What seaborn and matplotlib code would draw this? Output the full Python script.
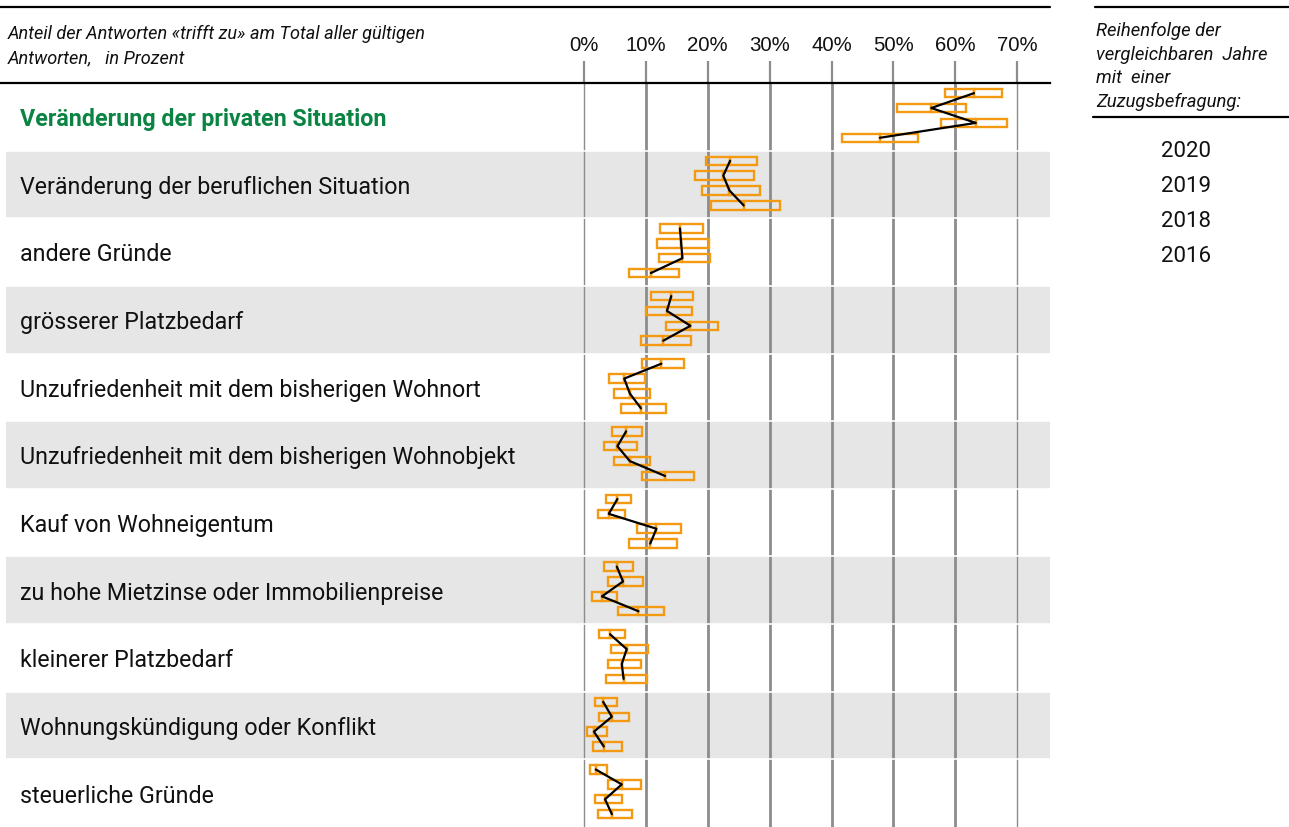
import numpy as np
import pandas as pd
import matplotlib
matplotlib.use("Agg")
import matplotlib.pyplot as plt
import seaborn as sns
from matplotlib.lines import Line2D
from matplotlib import font_manager
from matplotlib.transforms import blended_transform_factory, ScaledTranslation

# ---------------- data ----------------
categories = [
    "Veränderung der privaten Situation",
    "Veränderung der beruflichen Situation",
    "andere Gründe",
    "grösserer Platzbedarf",
    "Unzufriedenheit mit dem bisherigen Wohnort",
    "Unzufriedenheit mit dem bisherigen Wohnobjekt",
    "Kauf von Wohneigentum",
    "zu hohe Mietzinse oder Immobilienpreise",
    "kleinerer Platzbedarf",
    "Wohnungskündigung oder Konflikt",
    "steuerliche Gründe",
]
years = ["2020", "2019", "2018", "2016"]

est_2020 = [63.0, 23.6, 15.5, 14.1, 12.5, 6.8, 5.4, 5.3, 4.2, 3.1, 1.9]
lo_2020 = [58.4, 19.7, 12.2, 10.9, 9.4, 4.6, 3.5, 3.3, 2.4, 1.7, 1.0]
hi_2020 = [67.6, 28.0, 19.3, 17.6, 16.2, 9.4, 7.6, 7.9, 6.7, 5.4, 3.7]

est_2019 = [56.1, 22.5, 15.7, 13.4, 6.5, 5.4, 4.0, 6.3, 6.9, 4.5, 6.1]
lo_2019 = [50.6, 18.0, 11.8, 10.0, 4.0, 3.2, 2.2, 3.9, 4.3, 2.5, 3.8]
hi_2019 = [61.7, 27.5, 20.2, 17.5, 9.9, 8.6, 6.6, 9.5, 10.3, 7.3, 9.2]

est_2018 = [63.3, 23.5, 15.9, 17.2, 7.4, 7.4, 11.7, 2.9, 6.1, 1.6, 3.4]
lo_2018 = [57.7, 19.0, 12.1, 13.2, 4.8, 4.8, 8.6, 1.3, 3.8, 0.5, 1.8]
hi_2018 = [68.4, 28.5, 20.4, 21.7, 10.7, 10.6, 15.7, 5.4, 9.2, 3.7, 6.1]

est_2016 = [47.8, 25.8, 10.8, 12.8, 9.2, 13.1, 10.7, 8.8, 6.4, 3.2, 4.5]
lo_2016 = [41.6, 20.5, 7.3, 9.2, 5.9, 9.3, 7.3, 5.5, 3.6, 1.4, 2.2]
hi_2016 = [54.0, 31.7, 15.3, 17.3, 13.2, 17.7, 15.0, 13.0, 10.2, 6.1, 7.8]

tick_values = [0, 10, 20, 30, 40, 50, 60, 70]
tick_labels = ["0%", "10%", "20%", "30%", "40%", "50%", "60%", "70%"]

header_lines = ["Anteil der Antworten «trifft zu» am Total aller gültigen",
                "Antworten,   in Prozent"]
legend_lines = ["Reihenfolge der", "vergleichbaren  Jahre", "mit  einer",
                "Zuzugsbefragung:"]

# ---------------- styles ----------------
ORANGE = "#F39A12"
GREEN = "#0B8443"
BAND = "#E6E6E6"
GRID = "#8C8C8C"

sns.set_theme(style="white")
available = {f.name for f in font_manager.fontManager.ttflist}
MAIN = "Liberation Sans Narrow" if "Liberation Sans Narrow" in available else "Roboto"
TICKFONT = "Liberation Sans" if "Liberation Sans" in available else "DejaVu Sans"
plt.rcParams["font.family"] = [MAIN, "DejaVu Sans"]

W, H = 1289, 827
fig = plt.figure(figsize=(W / 100, H / 100), dpi=100)
renderer = fig.canvas.get_renderer()


def fit_size(text, target_px, family, **kw):
    t = fig.text(0, 0, text, fontsize=20, family=family, **kw)
    w = t.get_window_extent(renderer=renderer).width
    t.remove()
    return 20 * target_px / w


def fx(px):
    return px / W


def fy(py):
    return 1 - py / H


LBL_SIZE = fit_size("Veränderung der beruflichen Situation", 390, [MAIN])
HDR_SIZE = fit_size(header_lines[0], 417, [MAIN], style="italic")
LEG_SIZE = fit_size(legend_lines[1], 171, [MAIN], style="italic")
YEAR_SIZE = fit_size("2020", 50, [MAIN])
TICK_SIZE = fit_size("10%", 41, [TICKFONT])

# ---------------- data frame ----------------
offsets = [-0.35, -0.13, 0.09, 0.31]
rows = []
for yi, (yr, est, lo, hi) in enumerate(zip(
        years,
        [est_2020, est_2019, est_2018, est_2016],
        [lo_2020, lo_2019, lo_2018, lo_2016],
        [hi_2020, hi_2019, hi_2018, hi_2016])):
    for ci, cat in enumerate(categories):
        rows.append(dict(cat=cat, ci=ci, year=yr, yi=yi,
                         est=est[ci], lo=lo[ci], hi=hi[ci]))
df = pd.DataFrame(rows).sort_values(["ci", "yi"]).reset_index(drop=True)
df["ypos"] = df["ci"] + np.array(offsets)[df["yi"]]

# ---------------- main axes ----------------
ax = fig.add_axes([0, 0, fx(1050), (827 - 83) / H])
scale = (1017.3 - 584) / 70

# bands
for ci in range(len(categories)):
    if ci % 2 == 1:
        ax.axhspan(ci - 0.5, ci + 0.5, xmin=6 / 1050, xmax=1, color=BAND,
                   lw=0, zorder=0)

# vertical grid
for t in tick_values:
    ax.axvline(t, color=GRID, lw=1.0 if t in (0, 70) else 2.0, zorder=1)
for ci in range(len(categories) - 1):
    ax.axhline(ci + 0.5, color="white", lw=1.2, zorder=1.5)

# CI rectangles split at the estimate
ax.barh(df["ypos"], df["est"] - df["lo"], left=df["lo"], height=0.125,
        fill=False, edgecolor=ORANGE, linewidth=1.7, zorder=3)
ax.barh(df["ypos"], df["hi"] - df["est"], left=df["est"], height=0.125,
        fill=False, edgecolor=ORANGE, linewidth=1.7, zorder=3)

# connecting black lines
sns.lineplot(data=df, x="est", y="ypos", units="cat", estimator=None,
             sort=False, color="black", linewidth=1.6, legend=False, ax=ax,
             zorder=4)

ax.set_xlim(-584 / scale, (1050 - 584) / scale)
ax.set_ylim(len(categories) - 0.5, -0.5)
ax.set_xlabel("")
ax.set_ylabel("")
ax.set_yticks([])
ax.xaxis.tick_top()
ax.set_xticks(tick_values)
ax.set_xticklabels(tick_labels, fontfamily=TICKFONT, fontsize=TICK_SIZE,
                   color="#111111")
ax.tick_params(axis="x", which="both", top=True, bottom=False,
               direction="out", length=15.8, width=1.6, color=GRID,
               pad=4.5)
for side in ["left", "right", "bottom"]:
    ax.spines[side].set_visible(False)
ax.spines["top"].set_color("black")
ax.spines["top"].set_linewidth(1.6)
ax.patch.set_alpha(0)

# category labels
trans = blended_transform_factory(ax.transAxes, ax.transData)
cap_px = LBL_SIZE * 100 / 72 * 0.72
for ci, cat in enumerate(categories):
    off = ScaledTranslation(0, -cap_px / 2 / 100 - 0.01, fig.dpi_scale_trans)
    ax.text(20 / 1050, ci, cat, transform=trans + off, ha="left",
            va="baseline", fontsize=LBL_SIZE,
            color=GREEN if ci == 0 else "#111111",
            fontweight="bold" if ci == 0 else "normal")

# ---------------- header ----------------
fig.add_artist(Line2D([0, fx(1050)], [fy(7), fy(7)], color="black", lw=1.6))
fig.text(fx(8), fy(39), header_lines[0], style="italic", fontsize=HDR_SIZE,
         va="baseline", ha="left", color="#111111")
fig.text(fx(8), fy(63), header_lines[1], style="italic", fontsize=HDR_SIZE,
         va="baseline", ha="left", color="#111111")

# ---------------- right legend panel ----------------
fig.add_artist(Line2D([fx(1095), 1], [fy(7), fy(7)], color="black", lw=1.6))
fig.add_artist(Line2D([fx(1093), 1], [fy(117), fy(117)], color="black", lw=1.6))
for i, line in enumerate(legend_lines):
    fig.text(fx(1096), fy(36 + i * 23.7), line, style="italic",
             fontsize=LEG_SIZE, va="baseline", ha="left", color="#111111")
for i, yr in enumerate(years):
    fig.text(fx(1186), fy(157 + i * 35), yr, fontsize=YEAR_SIZE,
             va="baseline", ha="center", color="#111111")

fig.savefig("out.png", dpi=100)
